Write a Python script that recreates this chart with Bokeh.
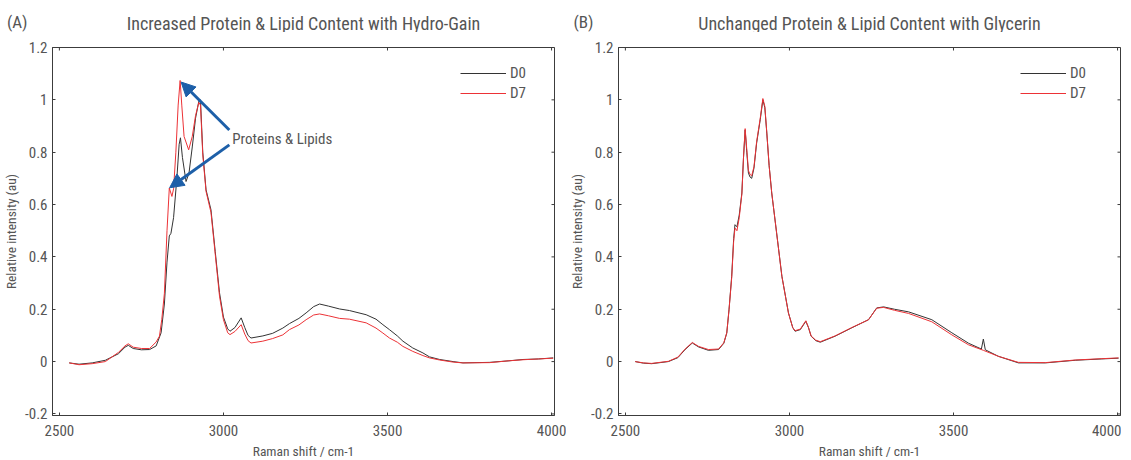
import math
from bokeh.plotting import figure
from bokeh.models import Range1d, FixedTicker, Legend, LegendItem, Arrow, NormalHead, Label
from bokeh.layouts import row, column
from bokeh.embed import file_html
from bokeh.resources import INLINE

# ---------------- data ----------------
x_ticks = [2500, 3000, 3500, 4000]
x_tick_labels = ["2500", "3000", "3500", "4000"]
y_ticks = [-0.2, 0, 0.2, 0.4, 0.6, 0.8, 1, 1.2]
y_tick_labels = ["-0.2", "0", "0.2", "0.4", "0.6", "0.8", "1", "1.2"]

# Panel A (Hydro-Gain)
a_d0_x = [2530, 2560, 2600, 2640, 2680, 2700, 2710, 2725, 2750, 2775, 2795, 2810, 2820, 2828, 2835,
          2840, 2848, 2858, 2865, 2869, 2875, 2886, 2895, 2905, 2915, 2925, 2930, 2937, 2947, 2962,
          2975, 2988, 3000, 3013, 3020, 3035, 3054, 3065, 3075, 3084, 3120, 3150, 3181, 3201, 3230,
          3252, 3275, 3293, 3320, 3354, 3384, 3435, 3465, 3486, 3506, 3530, 3547, 3577, 3608, 3628,
          3659, 3700, 3730, 3811, 3870, 3913, 3960, 4005]
a_d0_y = [-0.005, -0.01, -0.005, 0.005, 0.03, 0.055, 0.062, 0.05, 0.045, 0.046, 0.06, 0.11, 0.22, 0.38, 0.48,
          0.49, 0.55, 0.70, 0.83, 0.855, 0.78, 0.688, 0.72, 0.82, 0.93, 0.995, 1.0, 0.80, 0.656, 0.58,
          0.42, 0.263, 0.17, 0.125, 0.116, 0.13, 0.167, 0.13, 0.10, 0.09, 0.098, 0.108, 0.128, 0.145, 0.165,
          0.186, 0.21, 0.22, 0.212, 0.201, 0.195, 0.179, 0.162, 0.141, 0.122, 0.098, 0.078, 0.052, 0.033, 0.018,
          0.008, 0.0, -0.005, -0.003, 0.003, 0.008, 0.01, 0.014]
a_d7_x = [2530, 2560, 2600, 2640, 2680, 2700, 2710, 2725, 2750, 2775, 2795, 2805, 2812, 2820, 2828,
          2835, 2843, 2848, 2855, 2862, 2868, 2873, 2880, 2894, 2905, 2915, 2925, 2930, 2937, 2947,
          2962, 2975, 2988, 3000, 3013, 3020, 3035, 3054, 3065, 3075, 3084, 3120, 3150, 3181, 3201,
          3230, 3252, 3275, 3293, 3320, 3354, 3384, 3435, 3465, 3486, 3506, 3530, 3547, 3577, 3608,
          3628, 3659, 3700, 3730, 3811, 3870, 3913, 3960, 4005]
a_d7_y = [-0.005, -0.012, -0.008, 0.0, 0.035, 0.06, 0.068, 0.055, 0.05, 0.05, 0.075, 0.097, 0.16, 0.26, 0.50,
          0.663, 0.631, 0.66, 0.80, 0.98, 1.074, 0.98, 0.86, 0.809, 0.86, 0.94, 0.99, 0.98, 0.79, 0.65,
          0.57, 0.41, 0.25, 0.16, 0.11, 0.103, 0.115, 0.141, 0.105, 0.08, 0.071, 0.078, 0.088, 0.102, 0.122,
          0.14, 0.160, 0.178, 0.182, 0.175, 0.165, 0.162, 0.148, 0.128, 0.109, 0.09, 0.074, 0.058, 0.039, 0.023,
          0.014, 0.006, -0.002, -0.005, -0.004, 0.003, 0.007, 0.01, 0.013]

# Panel B (Glycerin)
b_d0_x = [2530, 2555, 2580, 2631, 2660, 2682, 2704, 2723, 2753, 2784, 2800, 2809, 2816, 2824, 2830,
          2834, 2840, 2847, 2855, 2860, 2865, 2870, 2875, 2880, 2885, 2892, 2900, 2911, 2919, 2925,
          2931, 2938, 2946, 2961, 2977, 2997, 3010, 3017, 3033, 3050, 3058, 3066, 3080, 3094, 3139,
          3190, 3241, 3266, 3287, 3320, 3363, 3434, 3495, 3546, 3585, 3591, 3597, 3637, 3698, 3780,
          3871, 3950, 4003]
b_d0_y = [0.0, -0.006, -0.008, 0.0, 0.015, 0.046, 0.071, 0.056, 0.043, 0.046, 0.07, 0.109, 0.2, 0.326, 0.47,
          0.523, 0.515, 0.56, 0.644, 0.78, 0.885, 0.80, 0.72, 0.705, 0.70, 0.74, 0.835, 0.924, 1.0, 0.97,
          0.873, 0.75, 0.644, 0.491, 0.326, 0.186, 0.13, 0.116, 0.122, 0.154, 0.13, 0.097, 0.08, 0.074, 0.097,
          0.129, 0.160, 0.205, 0.209, 0.20, 0.19, 0.16, 0.11, 0.07, 0.048, 0.086, 0.045, 0.02, -0.005, -0.005,
          0.005, 0.01, 0.013]
b_d7_x = [2530, 2555, 2580, 2631, 2660, 2682, 2704, 2723, 2753, 2784, 2800, 2809, 2816, 2824, 2830,
          2834, 2840, 2847, 2855, 2860, 2865, 2870, 2875, 2880, 2885, 2892, 2900, 2911, 2919, 2925,
          2931, 2938, 2946, 2961, 2977, 2997, 3010, 3017, 3033, 3050, 3058, 3066, 3080, 3094, 3139,
          3190, 3241, 3266, 3287, 3320, 3363, 3434, 3495, 3546, 3591, 3637, 3698, 3780,
          3871, 3950, 4003]
b_d7_y = [0.0, -0.005, -0.007, 0.001, 0.017, 0.048, 0.073, 0.058, 0.046, 0.048, 0.072, 0.11, 0.2, 0.32, 0.46,
          0.51, 0.50, 0.55, 0.64, 0.78, 0.89, 0.81, 0.73, 0.715, 0.71, 0.745, 0.84, 0.93, 1.005, 0.975,
          0.875, 0.75, 0.645, 0.49, 0.325, 0.185, 0.13, 0.118, 0.124, 0.156, 0.13, 0.098, 0.082, 0.076, 0.098,
          0.13, 0.160, 0.204, 0.207, 0.196, 0.184, 0.152, 0.102, 0.064, 0.043, 0.02, -0.003, -0.004,
          0.006, 0.011, 0.014]

titles = ["Increased Protein & Lipid Content with Hydro-Gain",
          "Unchanged Protein & Lipid Content with Glycerin"]
panel_tags = ["(A)", "(B)"]
series_names = ["D0", "D7"]
x_axis_title = "Raman shift / cm-1"
y_axis_title = "Relative intensity (au)"

# annotation (panel A): arrow starts/ends and text position, data units
arrow_starts = [(3018, 0.885), (3018, 0.828)]
arrow_ends = [(2871, 1.068), (2836, 0.664)]
note_text = "Proteins & Lipids"
note_pos = (3027, 0.852)

# ---------------- style / layout ----------------
FONT = "Liberation Sans Narrow, Roboto Condensed, Roboto"
TXT = "#555555"
AX = "#3c3c3c"
C_D0 = "#333333"
C_D7 = "#ec3236"
BLUE = "#1d5fa8"

X_RANGE = (2479, 4009)
Y_RANGE = (-0.206, 1.2)

FRAME_W = 502
FRAME_H = 368
HEAD_H = 32
HEAD_MID = 9.5
LEFT = 45
RIGHTS = [12, 1]
LEGEND_LOC = [(408, 312), (402, 312)]


def header(idx):
    h = figure(frame_width=FRAME_W, frame_height=HEAD_H, output_backend="svg",
               toolbar_location=None,
               x_range=Range1d(0, 1), y_range=Range1d(0, HEAD_H), x_axis_type=None,
               min_border_left=LEFT, min_border_right=RIGHTS[idx],
               min_border_top=0, min_border_bottom=0)
    h.outline_line_color = None
    h.grid.visible = False
    ya = h.yaxis[0]
    ya.ticker = FixedTicker(ticks=[HEAD_MID])
    ya.major_label_overrides = {HEAD_MID: panel_tags[idx]}
    ya.axis_line_color = None
    ya.major_tick_line_color = None
    ya.minor_tick_line_color = None
    ya.major_tick_in = 0
    ya.major_tick_out = 0
    ya.major_label_standoff = 25
    ya.major_label_text_font = FONT
    ya.major_label_text_font_size = "17px"
    ya.major_label_text_color = TXT
    h.add_layout(Label(x=0.5, y=HEAD_MID, text=titles[idx], text_font=FONT,
                       text_font_size="18px", text_color=TXT, text_baseline="middle",
                       text_align="center"))
    return h


def make_panel(idx, d0x, d0y, d7x, d7y):
    p = figure(frame_width=FRAME_W, frame_height=FRAME_H, output_backend="svg",
               toolbar_location=None,
               x_range=Range1d(*X_RANGE), y_range=Range1d(*Y_RANGE),
               min_border_left=LEFT, min_border_right=RIGHTS[idx],
               min_border_top=15, min_border_bottom=46)
    p.grid.visible = False
    p.outline_line_color = AX

    for ax in (p.xaxis[0], p.yaxis[0]):
        ax.axis_line_color = AX
        ax.major_tick_line_color = AX
        ax.major_tick_in = 3
        ax.major_tick_out = 0
        ax.minor_tick_in = 0
        ax.minor_tick_out = 0
        ax.major_label_text_font = FONT
        ax.major_label_text_color = TXT
        ax.major_label_text_font_size = "15px"
        ax.axis_label_text_font = FONT
        ax.axis_label_text_color = TXT
        ax.axis_label_text_font_style = "normal"
        ax.axis_label_text_font_size = "13.5px"
    xa = p.xaxis[0]
    ya = p.yaxis[0]
    xa.ticker = FixedTicker(ticks=x_ticks)
    xa.major_label_overrides = {t: l for t, l in zip(x_ticks, x_tick_labels)}
    ya.ticker = FixedTicker(ticks=y_ticks)
    ya.major_label_overrides = {t: l for t, l in zip(y_ticks, y_tick_labels)}
    xa.axis_label = x_axis_title
    ya.axis_label = y_axis_title
    xa.major_label_standoff = 9
    ya.major_label_standoff = 5
    xa.axis_label_standoff = 4
    ya.axis_label_standoff = 3

    # inward ticks on the top and right edges of the box
    p.scatter([X_RANGE[1]] * len(y_ticks), y_ticks, marker="dash", size=6, line_color=AX)
    p.scatter(x_ticks, [Y_RANGE[1]] * len(x_ticks), marker="dash", size=6, angle=math.pi / 2,
              line_color=AX)

    r0 = p.line(d0x, d0y, line_color=C_D0, line_width=1)
    r7 = p.line(d7x, d7y, line_color=C_D7, line_width=1)

    leg = Legend(items=[LegendItem(label=series_names[0], renderers=[r0]),
                        LegendItem(label=series_names[1], renderers=[r7])],
                 location=LEGEND_LOC[idx], border_line_color=None, background_fill_alpha=0,
                 glyph_width=46, glyph_height=20, label_height=20, label_standoff=4,
                 padding=5, spacing=0, margin=0,
                 label_text_font=FONT, label_text_font_size="15px", label_text_color=TXT)
    p.add_layout(leg)
    return p


pa = make_panel(0, a_d0_x, a_d0_y, a_d7_x, a_d7_y)
for (xs0, ys0), (xe, ye) in zip(arrow_starts, arrow_ends):
    pa.add_layout(Arrow(end=NormalHead(size=14, fill_color=BLUE, line_color=BLUE),
                        x_start=xs0, y_start=ys0, x_end=xe, y_end=ye,
                        line_color=BLUE, line_width=3))
pa.add_layout(Label(x=note_pos[0], y=note_pos[1], text=note_text, text_font=FONT,
                    text_font_size="15px", text_color=TXT, text_baseline="middle"))

pb = make_panel(1, b_d0_x, b_d0_y, b_d7_x, b_d7_y)

layout = row(column(header(0), pa), column(header(1), pb))
open("out.html", "w").write(file_html(layout, INLINE))
